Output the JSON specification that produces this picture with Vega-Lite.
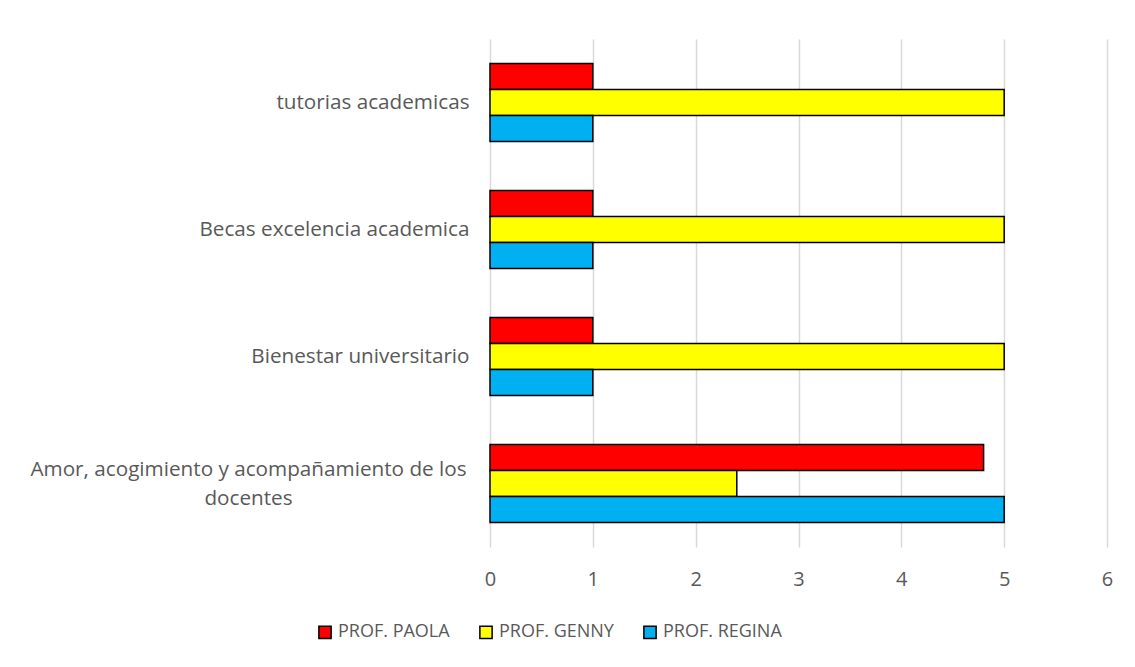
{
  "$schema": "https://vega.github.io/schema/vega-lite/v6.json",
  "width": 617,
  "height": 508,
  "autosize": {"type": "none"},
  "padding": {"left": 490, "top": 39, "right": 28, "bottom": 120},
  "background": "white",
  "config": {
    "view": {"stroke": null},
    "font": "Open Sans"
  },
  "data": {
    "values": [
      {"cat": "tutorias academicas", "prof": "PROF. PAOLA", "val": 1},
      {"cat": "tutorias academicas", "prof": "PROF. GENNY", "val": 5},
      {"cat": "tutorias academicas", "prof": "PROF. REGINA", "val": 1},
      {"cat": "Becas excelencia academica", "prof": "PROF. PAOLA", "val": 1},
      {"cat": "Becas excelencia academica", "prof": "PROF. GENNY", "val": 5},
      {"cat": "Becas excelencia academica", "prof": "PROF. REGINA", "val": 1},
      {"cat": "Bienestar universitario", "prof": "PROF. PAOLA", "val": 1},
      {"cat": "Bienestar universitario", "prof": "PROF. GENNY", "val": 5},
      {"cat": "Bienestar universitario", "prof": "PROF. REGINA", "val": 1},
      {"cat": "Amor, acogimiento y acompañamiento de los docentes", "prof": "PROF. PAOLA", "val": 4.8},
      {"cat": "Amor, acogimiento y acompañamiento de los docentes", "prof": "PROF. GENNY", "val": 2.4},
      {"cat": "Amor, acogimiento y acompañamiento de los docentes", "prof": "PROF. REGINA", "val": 5}
    ]
  },
  "mark": {"type": "bar", "stroke": "black", "strokeWidth": 1.5},
  "encoding": {
    "y": {
      "field": "cat",
      "type": "nominal",
      "sort": ["tutorias academicas", "Becas excelencia academica", "Bienestar universitario", "Amor, acogimiento y acompañamiento de los docentes"],
      "scale": {"paddingInner": 0.386, "paddingOuter": 0.193},
      "axis": {
        "title": null,
        "domain": false,
        "ticks": false,
        "labelFontSize": 20.7,
        "labelColor": "#595959",
        "labelLimit": 600,
        "labelLineHeight": 29,
        "labelExpr": "datum.value == 'Amor, acogimiento y acompañamiento de los docentes' ? ['Amor, acogimiento y acompañamiento de los', 'docentes'] : datum.value",
        "labelAlign": {"condition": {"test": "datum.value == 'Amor, acogimiento y acompañamiento de los docentes'", "value": "center"}, "value": "right"},
        "labelPadding": {"condition": {"test": "datum.value == 'Amor, acogimiento y acompañamiento de los docentes'", "value": 242}, "value": 21},
        "labelOffset": {"condition": {"test": "datum.value == 'Amor, acogimiento y acompañamiento de los docentes'", "value": -14}, "value": 0}
      }
    },
    "yOffset": {
      "field": "prof",
      "type": "nominal",
      "sort": ["PROF. PAOLA", "PROF. GENNY", "PROF. REGINA"],
      "scale": {"paddingInner": 0, "paddingOuter": 0}
    },
    "x": {
      "field": "val",
      "type": "quantitative",
      "scale": {"domain": [0, 6], "nice": false},
      "axis": {
        "title": null,
        "domain": false,
        "ticks": false,
        "values": [0, 1, 2, 3, 4, 5, 6],
        "labelFlush": false,
        "labelFontSize": 20,
        "labelColor": "#595959",
        "labelPadding": 22,
        "gridColor": "#d9d9d9",
        "gridWidth": 1.5
      }
    },
    "color": {
      "field": "prof",
      "type": "nominal",
      "sort": ["PROF. PAOLA", "PROF. GENNY", "PROF. REGINA"],
      "scale": {"domain": ["PROF. PAOLA", "PROF. GENNY", "PROF. REGINA"], "range": ["#FF0000", "#FFFF00", "#00B0F0"]},
      "legend": {
        "title": null,
        "orient": "none",
        "direction": "horizontal",
        "legendX": -174,
        "legendY": 584,
        "symbolType": "square",
        "symbolSize": 150,
        "symbolStrokeColor": "black",
        "symbolStrokeWidth": 1.5,
        "labelFontSize": 18,
        "labelColor": "#595959",
        "labelOffset": 4,
        "columnPadding": 26
      }
    }
  }
}
